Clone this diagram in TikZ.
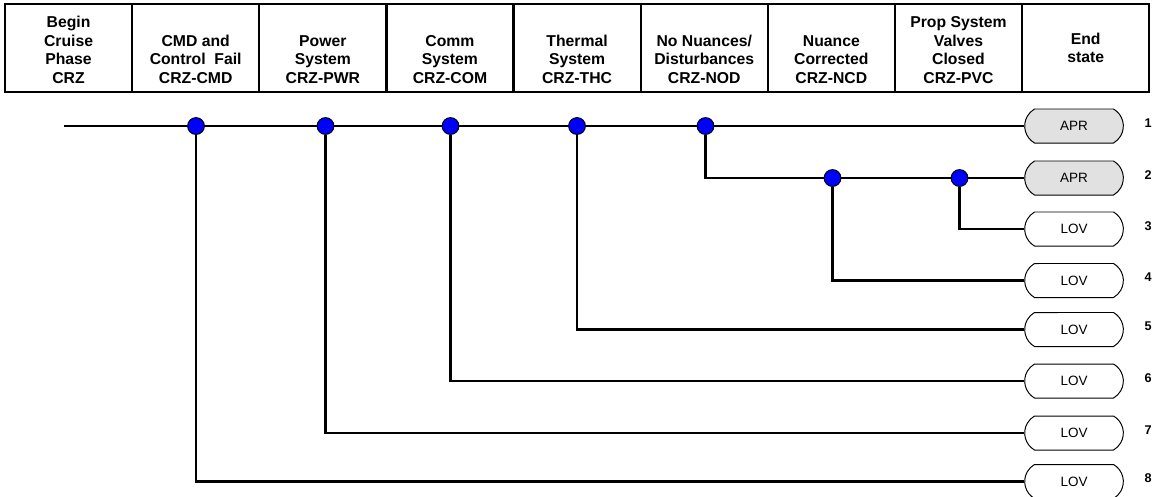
\documentclass[tikz,border=0pt]{standalone}
\usepackage{fontspec}
\setmainfont{Liberation Sans}
\usepackage{xcolor}
\usepackage{tikz}
\usetikzlibrary{positioning,shapes.misc}
\definecolor{etBlue}{HTML}{0000FF}
\definecolor{etGray}{HTML}{E1E1E1}
\definecolor{etLine}{HTML}{000000}
\tikzset{
  hdcell/.style={
    rectangle,
    draw=etLine,
    line width=1.6pt,
    minimum width=3.1775cm,
    minimum height=2.2cm,
    inner sep=0pt,
    outer sep=0pt
  },
  hdtext/.style={
    align=center,
    inner sep=0pt,
    font=\fontsize{11.2}{13.3}\selectfont\bfseries
  },
  branchpt/.style={circle, draw=etLine, fill=etBlue, line width=0.7pt, minimum size=0.42cm, inner sep=0pt},
  endstate/.style={
    rounded rectangle,
    rounded rectangle arc length=120,
    draw=etLine,
    line width=0.7pt,
    fill=white,
    minimum width=2.7cm,
    minimum height=0.85cm,
    font=\fontsize{9.6}{11}\selectfont
  },
  aprstate/.style={endstate, fill=etGray},
  seqnum/.style={font=\fontsize{9}{10}\selectfont\bfseries},
  tree/.style={draw=etLine, line width=1.5pt}
}

\begin{document}
\begin{tikzpicture}[x=0.025cm, y=-0.025cm]
  \useasboundingbox (0,0) rectangle (1154,496);

  % header row
  \node[hdcell] (h1) at (68.55,48) {};
  \node[hdcell, right=0pt of h1] (h2) {};
  \node[hdcell, right=0pt of h2] (h3) {};
  \node[hdcell, right=0pt of h3] (h4) {};
  \node[hdcell, right=0pt of h4] (h5) {};
  \node[hdcell, right=0pt of h5] (h6) {};
  \node[hdcell, right=0pt of h6] (h7) {};
  \node[hdcell, right=0pt of h7] (h8) {};
  \node[hdcell, right=0pt of h8] (h9) {};

  \node[hdtext, above=0.2cm of h1.south] (t1) {Begin\\Cruise\\Phase\\CRZ};
  \node[hdtext, above=0.2cm of h2.south] (t2) {CMD and\\Control~~Fail\\CRZ-CMD};
  \node[hdtext, above=0.2cm of h3.south] (t3) {Power\\System\\CRZ-PWR};
  \node[hdtext, above=0.2cm of h4.south] (t4) {Comm\\System\\CRZ-COM};
  \node[hdtext, above=0.2cm of h5.south] (t5) {Thermal\\System\\CRZ-THC};
  \node[hdtext, above=0.2cm of h6.south] (t6) {No Nuances/\\Disturbances\\CRZ-NOD};
  \node[hdtext, above=0.2cm of h7.south] (t7) {Nuance\\Corrected\\CRZ-NCD};
  \node[hdtext, above=0.2cm of h8.south] (t8) {Prop System\\Valves\\Closed\\CRZ-PVC};
  \node[hdtext] (t9) at (h9) {End\\state};

  % branch points
  \coordinate (start) at (64,126);
  \node[branchpt] (d1) at (196,126) {};
  \node[branchpt] (d2) at (325.5,126) {};
  \node[branchpt] (d3) at (450.5,126) {};
  \node[branchpt] (d4) at (577,126) {};
  \node[branchpt] (d5) at (705.5,126) {};
  \node[branchpt] (d6) at (832.5,178) {};
  \node[branchpt] (d7) at (959.5,178) {};

  % end states
  \node[aprstate] (e1) at (1074,126) {APR};
  \node[aprstate] (e2) at (1074,178) {APR};
  \node[endstate] (e3) at (1074,229) {LOV};
  \node[endstate] (e4) at (1074,280.5) {LOV};
  \node[endstate] (e5) at (1074,329.5) {LOV};
  \node[endstate] (e6) at (1074,381) {LOV};
  \node[endstate] (e7) at (1074,433) {LOV};
  \node[endstate] (e8) at (1074,481.5) {LOV};

  \node[seqnum] (n1) at (1148,123) {1};
  \node[seqnum] (n2) at (1148,175) {2};
  \node[seqnum] (n3) at (1148,226) {3};
  \node[seqnum] (n4) at (1148,277.5) {4};
  \node[seqnum] (n5) at (1148,326.5) {5};
  \node[seqnum] (n6) at (1148,378) {6};
  \node[seqnum] (n7) at (1148,430) {7};
  \node[seqnum] (n8) at (1148,478.5) {8};

  \draw[tree] (start) -- (d1) -- (d2) -- (d3) -- (d4) -- (d5) -- (e1);
  \draw[tree] (d5) |- (d6);
  \draw[tree] (d6) -- (d7) -- (e2);
  \draw[tree] (d7) |- (e3);
  \draw[tree] (d6) |- (e4);
  \draw[tree] (d4) |- (e5);
  \draw[tree] (d3) |- (e6);
  \draw[tree] (d2) |- (e7);
  \draw[tree] (d1) |- (e8);
\end{tikzpicture}
\end{document}
